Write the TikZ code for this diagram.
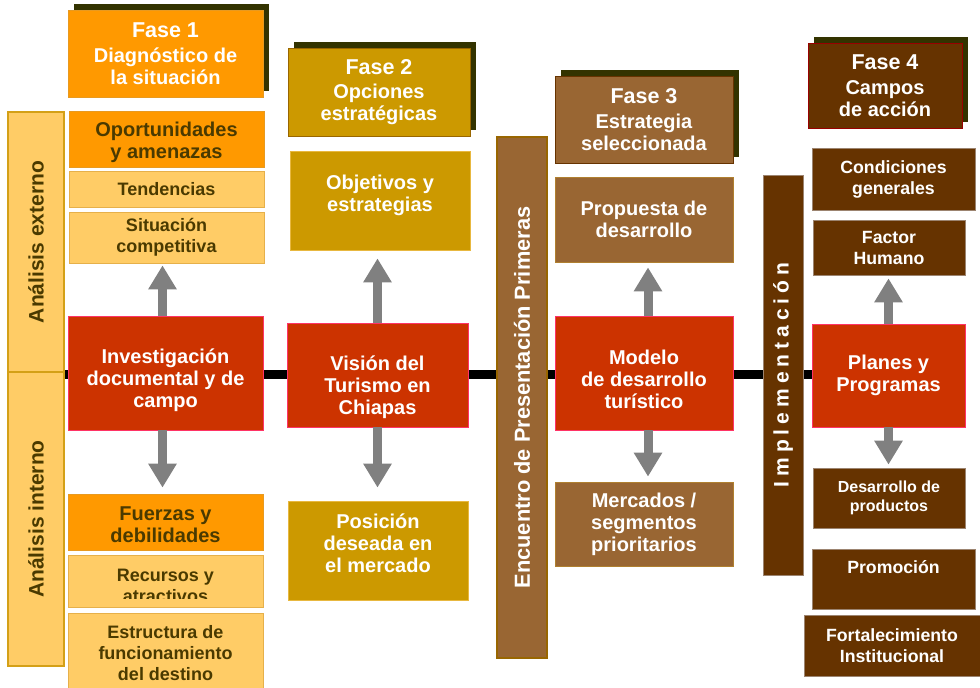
\documentclass[tikz,border=0pt]{standalone}
\usepackage{fontspec}
\setmainfont{Liberation Sans}
\usetikzlibrary{arrows.meta,shadows,calc}
\definecolor{orangeF}{HTML}{FF9900}
\definecolor{orangeB}{HTML}{E89A20}
\definecolor{lightF}{HTML}{FFCC66}
\definecolor{lightB}{HTML}{E6B04A}
\definecolor{barB}{HTML}{D4A017}
\definecolor{darkT}{HTML}{4A3A00}
\definecolor{goldF}{HTML}{CC9900}
\definecolor{goldB}{HTML}{E8B840}
\definecolor{goldH}{HTML}{996600}
\definecolor{brownF}{HTML}{996633}
\definecolor{brownB}{HTML}{B08030}
\definecolor{dbrownF}{HTML}{663300}
\definecolor{dbrownB}{HTML}{9C8470}
\definecolor{redF}{HTML}{CC3300}
\definecolor{redB}{HTML}{FF3366}
\definecolor{arrowgray}{HTML}{808080}
\definecolor{shad}{HTML}{333300}
\newcommand\impgap{\hspace{5pt}}
\tikzset{
  sz/.style 2 args={minimum width=#1pt, minimum height=#2pt},
  box/.style={draw, line width=0.8pt, inner sep=1pt, align=center, text=white,
    font=\bfseries\fontsize{20}{22}\selectfont},
  hdr/.style={box, general shadow={fill=shad, shadow xshift=6pt, shadow yshift=6pt}},
  lightbox/.style={box, fill=lightF, draw=lightB, text=darkT,
    font=\bfseries\fontsize{18}{21}\selectfont},
  orangebox/.style={box, fill=orangeF, draw=orangeB, text=darkT},
  redbox/.style={box, fill=redF, draw=redB},
  goldbox/.style={box, fill=goldF, draw=goldB},
  brownbox/.style={box, fill=brownF, draw=brownB},
  dbox/.style={box, fill=dbrownF, draw=dbrownB, font=\bfseries\fontsize{17.7}{21}\selectfont},
  sidebar/.style={draw=barB, line width=2.8pt, fill=lightF, text=darkT,
    font=\bfseries\fontsize{21}{24}\selectfont},
  txt/.style={align=center, text=white, inner sep=0pt, font=\bfseries\fontsize{20}{22}\selectfont},
  arr/.style={draw=arrowgray, line width=9pt, -{Triangle[length=24pt,width=27pt]}},
}
\newcommand\fase[1]{{\fontsize{21.5}{22}\selectfont Fase #1}\\[2.5pt]}
\begin{document}
\begin{tikzpicture}[x=1pt,y=-1pt]
\clip (0,0) rectangle (980,688);
\fill[white] (0,0) rectangle (980,688);

% main black line
\coordinate (lineL) at (64,374);
\coordinate (lineR) at (812,374);
\draw[line width=9pt] (lineL) -- (lineR);

% side bars
\node[sidebar, sz={56}{260}] (aext) at (36,242) {\rotatebox{90}{Análisis externo}};
\node[sidebar, sz={56}{294}] (aint) at (36,519) {\rotatebox{90}{Análisis interno}};

% Phase 1
\node[hdr, fill=orangeF, draw=orangeB, sz={195}{87}] (f1) at (165.5,53.5)
  {\fase{1}Diagnóstico de\\la situación};
\node[orangebox, sz={195}{56}] (opo) at (166.5,139) {};
\node[txt, text=darkT] (opoT) at ($(opo.center)+(0,3)$) {Oportunidades\\y amenazas};
\node[lightbox, sz={195}{36}] (ten) at (166.5,189) {Tendencias};
\node[lightbox, sz={195}{51}] (sit) at (166.5,237.5) {Situación\\competitiva};
\node[redbox, sz={195}{114}] (inv) at (165.5,373) {};
\node[txt] (invT) at ($(inv.center)+(0,7)$) {Investigación\\documental y de\\campo};
\node[orangebox, sz={195}{56}] (fue) at (165.5,522) {};
\node[txt, text=darkT] (fueT) at ($(fue.center)+(0,3)$) {Fuerzas y\\debilidades};
\node[lightbox, sz={195}{52}] (rec) at (165.5,581) {};
\begin{scope}
  \clip (68,556) rectangle (263,598.5);
  \node[txt, text=darkT, font=\bfseries\fontsize{18}{21}\selectfont] (recT) at (165.5,586) {Recursos y\\atractivos};
\end{scope}
\node[lightbox, sz={195}{81}] (est) at (165.5,653.5) {Estructura de\\funcionamiento\\del destino};

% Phase 2
\node[hdr, fill=goldF, draw=goldH, sz={182}{88}] (f2) at (379,92)
  {\fase{2}Opciones\\estratégicas};
\node[goldbox, sz={180}{99}] (obj) at (380,200.5) {};
\node[txt] (objT) at ($(obj.center)+(0,-5)$) {Objetivos y\\estrategias};
\node[redbox, sz={181}{104}] (vis) at (377.5,375) {};
\node[txt] (visT) at ($(vis.center)+(0,12)$) {Visión del\\Turismo en\\Chiapas};
\node[goldbox, sz={180}{99}] (pos) at (378,550.5) {};
\node[txt] (posT) at ($(pos.center)+(0,-7)$) {Posición\\deseada en\\el mercado};

% Encuentro bar
\node[draw=goldH, line width=2.5pt, fill=brownF, text=white, sz={50}{521},
  font=\bfseries\fontsize{21.8}{24}\selectfont] (enc) at (522,397.5)
  {\rotatebox{90}{Encuentro de Presentación Primeras}};

% Phase 3
\node[hdr, fill=brownF, draw=dbrownF, sz={178}{87}] (f3) at (644,119.5)
  {\fase{3}Estrategia\\seleccionada};
\node[brownbox, sz={178}{85}] (pro) at (644,219.5) {Propuesta de\\desarrollo};
\node[redbox, sz={178}{114}] (mod) at (644,373) {};
\node[txt] (modT) at ($(mod.center)+(0,6)$) {Modelo\\de desarrollo\\turístico};
\node[brownbox, sz={178}{84}] (mer) at (644,524) {Mercados /\\segmentos\\prioritarios};

% Implementacion bar
\node[draw=dbrownB, line width=0.6pt, fill=dbrownF, text=white, sz={40}{400},
  font=\bfseries\fontsize{21}{24}\selectfont] (imp) at (783,375)
  {\rotatebox{90}{I\impgap m\impgap p\impgap l\impgap e\impgap m\impgap e\impgap n\impgap t\impgap a\impgap c\impgap i\impgap ó\impgap n}};

% Phase 4
\node[hdr, fill=dbrownF, draw=red!60!black, sz={154}{85}] (f4) at (885,85.5)
  {\fase{4}Campos\\de acción};
\node[dbox, sz={163}{62}] (con) at (893.5,179) {Condiciones\\generales};
\node[dbox, sz={152}{55}] (fac) at (889,247.5) {Factor\\Humano};
\node[redbox, sz={153}{103}] (pla) at (888.5,375.5) {Planes y\\Programas};
\node[dbox, sz={152}{60}, font=\bfseries\fontsize{16}{19}\selectfont] (des) at (889,498) {Desarrollo de\\productos};
\node[dbox, sz={163}{60}] (prm) at (893.5,579) {};
\node[txt, font=\bfseries\fontsize{17.7}{21}\selectfont] (prmT) at ($(prm.center)+(0,-12)$) {Promoción};
\node[dbox, sz={176}{61}] (for) at (892,645.5) {Fortalecimiento\\Institucional};

% arrows
\draw[arr, shorten >=2pt] ([xshift=-3pt]inv.north) -- ([xshift=-3pt]inv.north |- sit.south);
\draw[arr, shorten >=6pt] ([xshift=-3pt]inv.south) -- ([xshift=-3pt]inv.south |- fue.north);
\draw[arr, shorten >=8pt] (vis.north) -- (vis.north |- obj.south);
\draw[arr, shorten >=13pt] (vis.south) -- (vis.south |- pos.north);
\draw[arr, shorten >=5pt] ([xshift=4pt]mod.north) -- ([xshift=4pt]mod.north |- pro.south);
\draw[arr, shorten >=5pt] ([xshift=4pt]mod.south) -- ([xshift=4pt]mod.south |- mer.north);
\draw[arr, shorten >=3pt] (pla.north) -- (pla.north |- fac.south);
\draw[arr, shorten >=3pt] (pla.south) -- (pla.south |- des.north);
\end{tikzpicture}
\end{document}
